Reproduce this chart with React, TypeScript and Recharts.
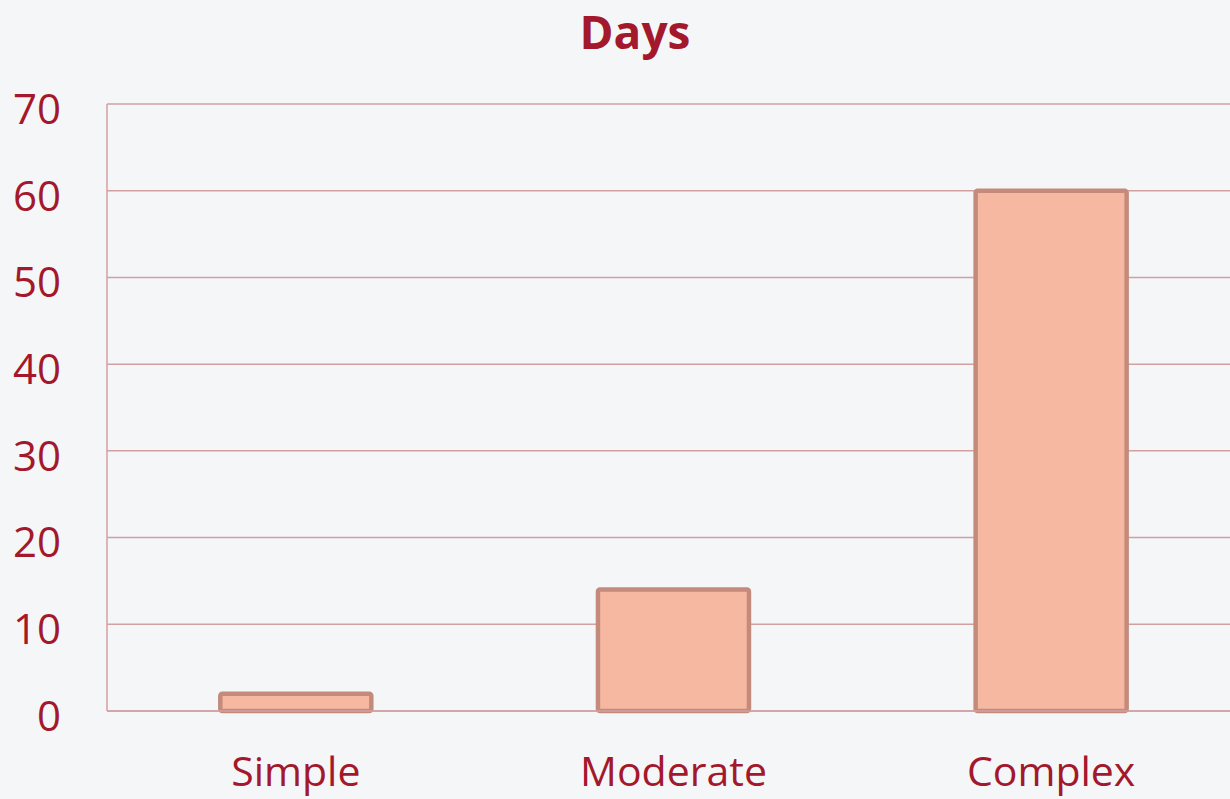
import { Bar, BarChart, CartesianGrid, XAxis, YAxis } from 'recharts'

const categories = ['Simple', 'Moderate', 'Complex']
const days = [2, 14, 60]
const yTicks = [0, 10, 20, 30, 40, 50, 60, 70]

const RED = '#a3182a'
const GRID = '#d3a0a2'
const FONT = '"Open Sans", Lato, sans-serif'

export default function App() {
  const data = categories.map((name, i) => ({ name, days: days[i] }))

  return (
    <div
      style={{
        position: 'fixed',
        left: 0,
        top: 0,
        width: 1230,
        height: 799,
        overflow: 'hidden',
        background: '#f5f6f8',
        fontFamily: FONT,
      }}
    >
      <div
        style={{
          position: 'absolute',
          left: 0,
          width: 1270,
          top: 0,
          textAlign: 'center',
          fontSize: 46,
          fontWeight: 700,
          color: RED,
        }}
      >
        Days
      </div>
      <BarChart
        width={1240}
        height={799}
        data={data}
        margin={{ top: 104, right: 0, bottom: 0, left: 0 }}
        barCategoryGap="30%"
      >
        <CartesianGrid vertical={false} stroke={GRID} strokeWidth={1.5} />
        <XAxis
          dataKey="name"
          height={88}
          axisLine={{ stroke: GRID, strokeWidth: 1.5 }}
          tickLine={false}
          tickSize={0}
          tickMargin={46}
          tick={{ fill: RED, fontSize: 41, fontFamily: FONT }}
        />
        <YAxis
          width={107}
          domain={[0, 70]}
          ticks={yTicks}
          axisLine={{ stroke: GRID, strokeWidth: 1.5 }}
          tickLine={false}
          tickSize={0}
          tickMargin={46}
          tick={{ fill: RED, fontSize: 42, fontFamily: FONT, dy: 5 }}
        />
        <Bar
          dataKey="days"
          fill="#f6b8a1"
          stroke="#c48a7c"
          strokeWidth={4.5}
          radius={2}
          isAnimationActive={false}
        />
      </BarChart>
    </div>
  )
}
